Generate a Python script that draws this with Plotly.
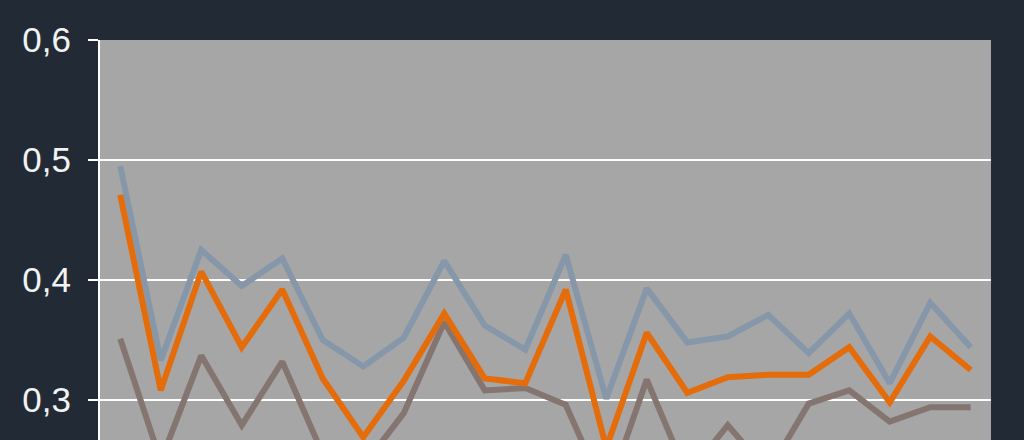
import plotly.graph_objects as go

points = [str(i) for i in range(1, 23)]

blue_vals = [0.495, 0.333, 0.425, 0.395, 0.418, 0.350, 0.328, 0.352, 0.416, 0.362, 0.342,
             0.421, 0.301, 0.393, 0.348, 0.353, 0.371, 0.339, 0.372, 0.314, 0.381, 0.344]
orange_vals = [0.471, 0.308, 0.407, 0.344, 0.392, 0.318, 0.269, 0.316, 0.372, 0.318, 0.314,
               0.392, 0.260, 0.356, 0.306, 0.319, 0.321, 0.321, 0.344, 0.298, 0.353, 0.325]
brown_vals = [0.351, 0.249, 0.337, 0.279, 0.332, 0.255, 0.245, 0.289, 0.365, 0.308, 0.310,
              0.296, 0.220, 0.317, 0.237, 0.279, 0.240, 0.297, 0.308, 0.282, 0.294, 0.294]

y_ticks = [0.3, 0.4, 0.5, 0.6]

fig = go.Figure()

# draw order: brown under, orange on top
for vals, color in [(brown_vals, '#857570'), (blue_vals, '#8797aa'), (orange_vals, '#e46c0a')]:
    fig.add_trace(go.Scatter(x=points, y=vals, mode='lines',
                             line=dict(color=color, width=6),
                             showlegend=False, hoverinfo='skip'))

fig.update_layout(
    width=1024, height=440,
    margin=dict(l=100, r=33, t=40, b=0),
    paper_bgcolor='#222b35',
    plot_bgcolor='#a6a6a6',
    separators=',.',
    font=dict(family='Liberation Sans, Arial, sans-serif', color='#f2f2f2'),
    xaxis=dict(type='category', range=[-0.5, 21.5], visible=False),
    yaxis=dict(
        range=[0.26667, 0.6],
        tickvals=y_ticks,
        tickformat='.1f',
        tickfont=dict(size=35, color='#f2f2f2'),
        ticks='outside', ticklen=10, tickwidth=2, tickcolor='#ffffff',
        ticklabelstandoff=10,
        showline=True, linecolor='#ffffff', linewidth=2,
        showgrid=True, gridcolor='#ffffff', gridwidth=2,
        zeroline=False,
    ),
)

# page has default body margin; remove it so the figure sits at 0,0
fig.write_html("out.html", config={'displayModeBar': False},
               post_script="document.body.style.margin='0';")
